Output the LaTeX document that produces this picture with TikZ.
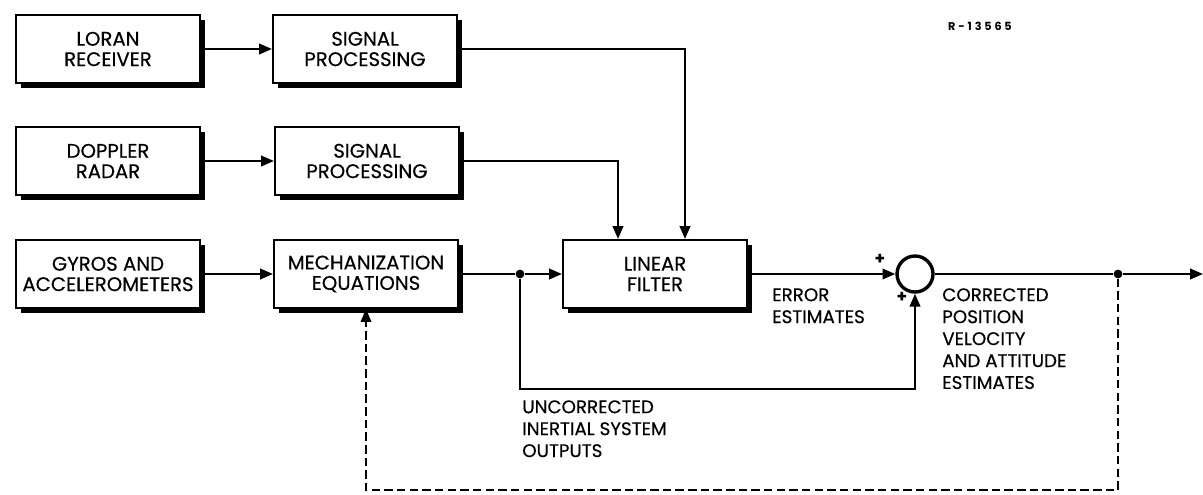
\documentclass[tikz,border=0pt]{standalone}
\usepackage{fontspec}
\setmainfont{Poppins}
\usetikzlibrary{arrows.meta,positioning,shadows}

\begin{document}
\begin{tikzpicture}[
  x=0.025cm, y=-0.025cm,
  font=\fontsize{13}{15.6}\selectfont\addfontfeature{FakeBold=0.4},
  block/.style={draw=black, line width=1.4pt, fill=white, minimum width=4.6cm, minimum height=1.7cm,
    align=center, inner sep=2pt, font=\fontsize{14}{14.5}\selectfont\addfontfeature{FakeBold=0.4},
    drop shadow={shadow xshift=0.12cm, shadow yshift=-0.13cm, fill=black, opacity=1}},
  flow/.style={draw=black, line width=1.6pt, -{Triangle[length=3.2mm,width=2.6mm]}},
  link/.style={draw=black, line width=1.6pt},
  feedback/.style={draw=black, line width=1.3pt, dash pattern=on 6pt off 3pt, -{Triangle[length=3.2mm,width=2.6mm]}},
  note/.style={anchor=north west, align=left, inner sep=0pt},
  junction/.style={circle, fill=black, inner sep=0pt, minimum size=2.2mm},
  summer/.style={circle, draw=black, line width=2.4pt, fill=white, minimum size=0.9cm, inner sep=0pt},
  sign/.style={font=\fontsize{12}{12}\bfseries, inner sep=0pt}
]
\useasboundingbox (0,0) rectangle (1203,494);

% sensor chain
\node[block] (loran) at (108,49) {LORAN\\RECEIVER};
\node[block] (sigproc1) at (365,49) {SIGNAL\\PROCESSING};
\node[block] (doppler) at (108,161) {DOPPLER\\RADAR};
\node[block] (sigproc2) at (367,161) {SIGNAL\\PROCESSING};
\node[block] (gyros) at (108,274) {GYROS AND\\ACCELEROMETERS};
\node[block] (mech) at (366,274) {MECHANIZATION\\EQUATIONS};
\node[block] (filter) at (655,274) {LINEAR\\FILTER};
\node[summer] (sum) at (915,274) {};

\node[junction] (tap) at (520,274) {};
\node[junction] (tapout) at (1118,274) {};
\coordinate (outend) at (1203,274);

\node[sign] (plusa) at (880,259) {+};
\node[sign] (plusb) at (902,297) {+};

\draw[flow] (loran) -- (sigproc1);
\draw[flow] (doppler) -- (sigproc2);
\draw[flow] (gyros) -- (mech);
\draw[link] (mech) -- (tap);
\draw[flow] (tap) -- (filter);
\draw[flow] (sigproc1.east) -| ([xshift=0.75cm]filter.north);
\draw[flow] (sigproc2.east) -| ([xshift=-0.925cm]filter.north);
\draw[flow] (filter) -- (sum);
\draw[flow] (tap) -- ++(0,115) -| (sum.south);
\draw[link] (sum) -- (tapout);
\draw[flow] (tapout) -- (outend);

% reset path
\draw[feedback] (tapout) -- ++(0,216) -| (mech.south);

% labels
\node[note] (errlbl) at (772,288) {ERROR\\ESTIMATES};
\node[note] (corrlbl) at (942,288) {CORRECTED\\POSITION\\VELOCITY\\AND ATTITUDE\\ESTIMATES};
\node[note] (uncorrlbl) at (522,400) {UNCORRECTED\\INERTIAL SYSTEM\\OUTPUTS};
\node[font=\fontsize{8}{9}\bfseries\addfontfeature{LetterSpace=25}] (refno) at (980,26) {R-13565};
\end{tikzpicture}
\end{document}
